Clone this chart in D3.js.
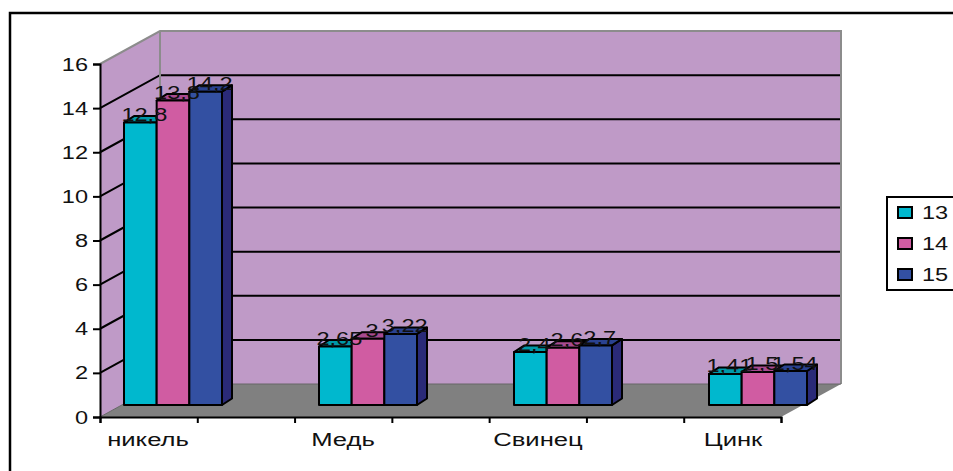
<!DOCTYPE html>
<html>
<head>
<meta charset="utf-8">
<style>
html,body{margin:0;padding:0;background:#fff;overflow:hidden}
svg{display:block}
text{font-family:"Liberation Sans",Arial,sans-serif;fill:#111}
</style>
<script src="https://cdn.jsdelivr.net/npm/d3@7/dist/d3.min.js"></script>
</head>
<body>
<script>
// Metal figures by year, drawn as a pseudo-3D clustered column chart.
const categories = ["никель", "Медь", "Свинец", "Цинк"];
const seriesNames = ["13", "14", "15"];
const values13 = [12.8, 2.65, 2.4, 1.41];
const values14 = [13.8, 3, 2.6, 1.5];
const values15 = [14.2, 3.22, 2.7, 1.54];
const valueTicks = [0, 2, 4, 6, 8, 10, 12, 14, 16];

const seriesValues = [values13, values14, values15];
const faceColors = ["#00B8CE", "#D05CA2", "#3350A2"];
const topColors = ["#0098A8", "#A84A90", "#2A4290"];
const sideColor = "#2A2A78";
const wallColor = "#BF9AC7";
const floorColor = "#808080";
const edgeColor = "#8C8C8C";
const widen = 1.24;                // numerals are set wider than normal
const widenWords = 1.35;           // category names wider still
const fontSize = 19;

const W = 953, H = 471;
const svg = d3.select("body").append("svg").attr("width", W).attr("height", H);

// Outer frame: only top and left edges fall inside the page.
svg.append("path").attr("d", `M10,${H}V13H${W}`).attr("fill", "none")
  .attr("stroke", "#000").attr("stroke-width", 2.5);

// Front plane of the plot and the oblique depth vector.
const x0 = 100, x1 = 781;
const y = d3.scaleLinear().domain([0, 16]).range([417, 64]);
const depth = { x: 60, y: -33 };
const barDepth = { x: 10, y: -6.5 };
const barShift = { x: 21.5, y: -12 };

const xCat = d3.scaleBand().domain(categories).range([54, 834]);
const clusterWidth = 98;
const xSeries = d3.scaleBand().domain(seriesNames).range([0, clusterWidth]);

const line = d3.line();

// Walls and floor
svg.append("path").attr("fill", wallColor).attr("d", line([
  [x0 + depth.x, y(16) + depth.y], [x1 + depth.x, y(16) + depth.y],
  [x1 + depth.x, y(0) + depth.y], [x0 + depth.x, y(0) + depth.y]]) + "Z");
svg.append("path").attr("fill", wallColor).attr("d", line([
  [x0, y(16)], [x0 + depth.x, y(16) + depth.y],
  [x0 + depth.x, y(0) + depth.y], [x0, y(0)]]) + "Z");
svg.append("path").attr("fill", floorColor).attr("d", line([
  [x0, y(0)], [x0 + depth.x, y(0) + depth.y],
  [x1 + depth.x, y(0) + depth.y], [x1, y(0)]]) + "Z");

// Gridlines run up the side wall and along the back wall.
svg.append("g").selectAll("path").data(valueTicks.filter(v => v > 0 && v < 16)).join("path")
  .attr("fill", "none").attr("stroke", "#000").attr("stroke-width", 2)
  .attr("d", v => line([[x0, y(v)], [x0 + depth.x, y(v) + depth.y], [x1 + depth.x, y(v) + depth.y]]));

// Grey outline of the back wall
svg.append("path").attr("fill", "none").attr("stroke", edgeColor).attr("stroke-width", 2)
  .attr("d", line([
    [x0, y(16)], [x0 + depth.x, y(16) + depth.y], [x1 + depth.x, y(16) + depth.y],
    [x1 + depth.x, y(0) + depth.y]]));
svg.append("path").attr("fill", "none").attr("stroke", edgeColor).attr("stroke-width", 2)
  .attr("d", line([[x0 + depth.x, y(16) + depth.y], [x0 + depth.x, y(0) + depth.y]]));
svg.append("path").attr("fill", "none").attr("stroke", "#666").attr("stroke-width", 1)
  .attr("d", line([[x0, y(0)], [x0 + depth.x, y(0) + depth.y], [x1 + depth.x, y(0) + depth.y]]));

// Column clusters
categories.forEach((cat, ci) => {
  const g = svg.append("g");
  seriesNames.forEach((s, si) => {
    const left = xCat(cat) + (xCat.bandwidth() - clusterWidth) / 2 + barShift.x + xSeries(s);
    const right = left + xSeries.bandwidth();
    const top = y(seriesValues[si][ci]) + barShift.y;
    const bottom = y(0) + barShift.y;
    const b = g.append("g").attr("stroke", "#000").attr("stroke-width", 2).attr("stroke-linejoin", "round");
    b.append("path").attr("fill", sideColor).attr("d", line([
      [right, top], [right + barDepth.x, top + barDepth.y],
      [right + barDepth.x, bottom + barDepth.y], [right, bottom]]) + "Z");
    b.append("path").attr("fill", topColors[si]).attr("d", line([
      [left, top], [left + barDepth.x, top + barDepth.y],
      [right + barDepth.x, top + barDepth.y], [right, top]]) + "Z");
    b.append("path").attr("fill", faceColors[si]).attr("d", line([
      [left, top], [right, top], [right, bottom], [left, bottom]]) + "Z");
  });
});

// Horizontally widened text placed at an anchor point.
function label(parent, px, py, str, anchor, stretch = widen) {
  return parent.append("text")
    .attr("transform", `translate(${px},${py}) scale(${stretch},1)`)
    .attr("text-anchor", anchor)
    .attr("font-size", fontSize)
    .text(str);
}

// Value labels sit on top of everything and overlap where the columns are close.
const labels = svg.append("g");
categories.forEach((cat, ci) => {
  seriesNames.forEach((s, si) => {
    const v = seriesValues[si][ci];
    const cx = xCat(cat) + (xCat.bandwidth() - clusterWidth) / 2 + barShift.x + xSeries(s) + xSeries.bandwidth() / 2 + 4;
    label(labels, cx, y(v) + barShift.y - 1.5, String(v).replace(".", ","), "middle");
  });
});

// Value axis
const yAxis = svg.append("g").attr("transform", `translate(${x0},0)`)
  .call(d3.axisLeft(y).tickValues(valueTicks).tickSize(7).tickPadding(6));
yAxis.selectAll("path,line").attr("stroke", "#000").attr("stroke-width", 2);
yAxis.selectAll("text").remove();
valueTicks.forEach(v => label(svg, x0 - 12, y(v) + 6.5, String(v), "end"));

// Category axis: ticks fall every half category, labels every full category.
const xTick = d3.scaleLinear().domain([0, 7]).range([x0, x1]);
const xAxis = svg.append("g").attr("transform", `translate(0,${y(0)})`)
  .call(d3.axisBottom(xTick).ticks(7).tickSize(6).tickFormat(""));
xAxis.selectAll("path,line").attr("stroke", "#000").attr("stroke-width", 2);
categories.forEach(cat => label(svg, xCat(cat) + xCat.bandwidth() / 2 - 3.5, 445.5, cat, "middle", widenWords));

// Legend, running off the right edge of the page
const legend = svg.append("g");
legend.append("rect").attr("x", 887).attr("y", 197).attr("width", 80).attr("height", 93)
  .attr("fill", "#fff").attr("stroke", "#000").attr("stroke-width", 2);
seriesNames.forEach((s, i) => {
  const ly = 213 + i * 31;
  legend.append("rect").attr("x", 898).attr("y", ly - 6).attr("width", 14).attr("height", 11)
    .attr("fill", faceColors[i]).attr("stroke", "#000").attr("stroke-width", 2);
  label(legend, 922, ly + 6, s, "start");
});
</script>
</body>
</html>
